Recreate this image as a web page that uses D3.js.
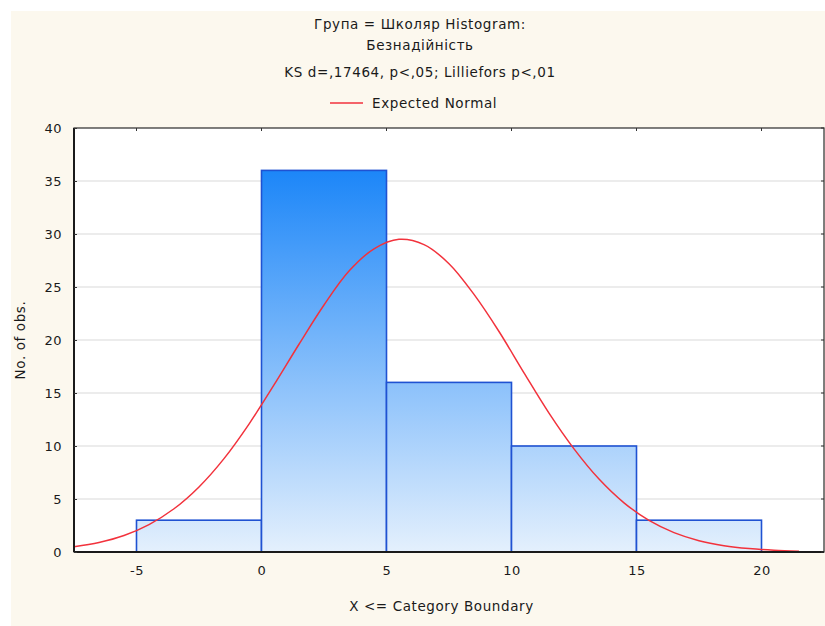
<!DOCTYPE html>
<html>
<head>
<meta charset="utf-8">
<script src="https://cdn.jsdelivr.net/npm/d3@7"></script>
<style>
    html, body { margin: 0; padding: 0; background: #ffffff; }
    svg text { font-family: "DejaVu Sans", "Liberation Sans", sans-serif; fill: #1a1a1a; }
    .tick-label { font-size: 13px; letter-spacing: 0.5px; }
    .chart-title { font-size: 13.5px; letter-spacing: 0.6px; }
</style>
</head>
<body>
<div id="chart"></div>
<script>
'use strict';

// histogram bins (lower / upper boundary) and counts
var binLower = [-5, 0, 5, 10, 15];
var binUpper = [0, 5, 10, 15, 20];
var counts = [3, 36, 16, 10, 3];

// expected normal curve
var normalX = [-7.5, -6.5, -5.5, -4.5, -3.5, -2.5, -1.5, -0.5, 0.5, 1.5, 2.5, 3.5, 4.5, 5.5,
    6.5, 7.5, 8.5, 9.5, 10.5, 11.5, 12.5, 13.5, 14.5, 15.5, 16.5, 17.5, 18.5, 19.5, 20.5, 21.5];
var normalY = [0.5, 0.9, 1.56, 2.59, 4.08, 6.14, 8.81, 12.07, 15.76, 19.6, 23.3, 26.5, 28.6, 29.5,
    29.0, 27.2, 24.3, 20.8, 16.9, 13.1, 9.73, 6.88, 4.64, 2.98, 1.83, 1.07, 0.6, 0.32, 0.16, 0.08];

var xTicks = [-5, 0, 5, 10, 15, 20];
var yTicks = [0, 5, 10, 15, 20, 25, 30, 35, 40];

var titleLines = ['Група = Школяр Histogram:', 'Безнадійність', 'KS d=,17464, p<,05; Lilliefors p<,01'];
var legendLabel = 'Expected Normal';
var xTitle = 'X <= Category Boundary';
var yTitle = 'No. of obs.';

var margin = {top: 128, right: 1, bottom: 74, left: 74},
    svgWidth = 825,
    svgHeight = 626,
    width = svgWidth - margin.left - margin.right,
    height = svgHeight - margin.top - margin.bottom;

var x = d3.scaleLinear().domain([-7.5, 22.5]).range([0, width]);
var y = d3.scaleLinear().domain([0, 40]).range([height, 0]);

var root = d3.select('#chart').append('svg')
    .attr('width', svgWidth)
    .attr('height', svgHeight);

// cream panel
root.append('rect')
    .attr('x', 11).attr('y', 11)
    .attr('width', svgWidth - 11).attr('height', svgHeight - 11)
    .attr('fill', '#fcf8ee');

var defs = root.append('defs');
var grad = defs.append('linearGradient')
    .attr('id', 'barGrad')
    .attr('gradientUnits', 'userSpaceOnUse')
    .attr('x1', 0).attr('x2', 0)
    .attr('y1', y(d3.max(counts))).attr('y2', y(0));
grad.append('stop').attr('offset', '0%').attr('stop-color', '#1c86f8');
grad.append('stop').attr('offset', '100%').attr('stop-color', '#e4f0fd');

var svg = root.append('g')
    .attr('transform', 'translate(' + margin.left + ',' + margin.top + ')');

// plot area
svg.append('rect')
    .attr('width', width).attr('height', height)
    .attr('fill', '#ffffff');

// gridlines
svg.append('g').selectAll('line')
    .data(yTicks.slice(1, -1))
    .enter().append('line')
    .attr('x1', 0).attr('x2', width)
    .attr('y1', function(d) { return y(d); })
    .attr('y2', function(d) { return y(d); })
    .attr('stroke', '#d9d9d9')
    .attr('stroke-width', 1);

// bars
var bins = counts.map(function(c, i) {
    return {lo: binLower[i], hi: binUpper[i], n: c};
});

svg.append('g').selectAll('rect')
    .data(bins)
    .enter().append('rect')
    .attr('x', function(d) { return x(d.lo); })
    .attr('width', function(d) { return x(d.hi) - x(d.lo); })
    .attr('y', function(d) { return y(d.n); })
    .attr('height', function(d) { return y(0) - y(d.n); })
    .attr('fill', 'url(#barGrad)')
    .attr('stroke', '#1f52d2')
    .attr('stroke-width', 1.6);

// expected normal
var line = d3.line()
    .x(function(d, i) { return x(normalX[i]); })
    .y(function(d) { return y(d); })
    .curve(d3.curveCatmullRom);

svg.append('path')
    .datum(normalY)
    .attr('d', line)
    .attr('fill', 'none')
    .attr('stroke', '#f2323c')
    .attr('stroke-width', 1.5);

// frame
svg.append('rect')
    .attr('width', width).attr('height', height)
    .attr('fill', 'none')
    .attr('stroke', '#2a2a2a')
    .attr('stroke-width', 1.2);
svg.append('line')
    .attr('x1', 0).attr('x2', 0).attr('y1', 0).attr('y2', height)
    .attr('stroke', '#1a1a1a').attr('stroke-width', 2);
svg.append('line')
    .attr('x1', 0).attr('x2', width).attr('y1', height).attr('y2', height)
    .attr('stroke', '#1a1a1a').attr('stroke-width', 2);

// axes (ticks point inward), plain hyphen for negatives
var fmt = function(d) { return String(d); };
var yAxis = d3.axisLeft(y).tickValues(yTicks).tickSize(-3).tickPadding(12).tickFormat(fmt);
var xAxis = d3.axisBottom(x).tickValues(xTicks).tickSize(0).tickPadding(14).tickFormat(fmt);

var gy = svg.append('g').attr('class', 'y axis').call(yAxis);
var gx = svg.append('g').attr('class', 'x axis')
    .attr('transform', 'translate(0,' + height + ')')
    .call(xAxis);

[gx, gy].forEach(function(g) {
    g.attr('font-family', null).attr('font-size', null);
    g.select('.domain').remove();
    g.selectAll('line').attr('stroke', '#333');
    g.selectAll('text').attr('class', 'tick-label').attr('fill', null);
});

// small tick marks on top and right edges
svg.append('g').selectAll('line')
    .data(xTicks)
    .enter().append('line')
    .attr('x1', function(d) { return x(d); })
    .attr('x2', function(d) { return x(d); })
    .attr('y1', 0).attr('y2', 3)
    .attr('stroke', '#333');
svg.append('g').selectAll('line')
    .data(yTicks)
    .enter().append('line')
    .attr('x1', width - 3).attr('x2', width)
    .attr('y1', function(d) { return y(d); })
    .attr('y2', function(d) { return y(d); })
    .attr('stroke', '#333');

// titles
root.append('g').selectAll('text')
    .data(titleLines)
    .enter().append('text')
    .attr('class', 'chart-title')
    .attr('x', 420)
    .attr('y', function(d, i) { return [29, 50, 77][i]; })
    .attr('text-anchor', 'middle')
    .text(function(d) { return d; });

// legend
root.append('line')
    .attr('x1', 330).attr('x2', 363)
    .attr('y1', 103).attr('y2', 103)
    .attr('stroke', '#f2323c')
    .attr('stroke-width', 1.5);
root.append('text')
    .attr('class', 'chart-title')
    .attr('x', 372).attr('y', 108)
    .text(legendLabel);

// axis titles
root.append('text')
    .attr('class', 'chart-title')
    .attr('x', margin.left + x(7.2)).attr('y', 611)
    .attr('text-anchor', 'middle')
    .text(xTitle);

root.append('text')
    .attr('class', 'chart-title')
    .attr('transform', 'translate(25,' + (margin.top + height / 2) + ') rotate(-90)')
    .attr('text-anchor', 'middle')
    .text(yTitle);
</script>
</body>
</html>
